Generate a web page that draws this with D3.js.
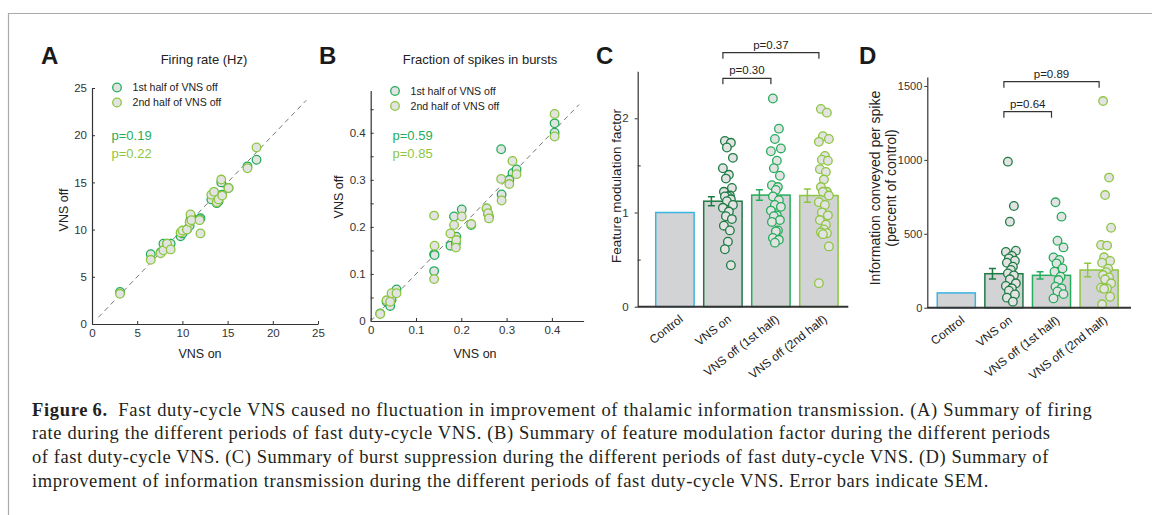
<!DOCTYPE html>
<html>
<head>
<meta charset="utf-8">
<script src="https://cdn.jsdelivr.net/npm/d3@7"></script>
<style>
  body { margin: 0; background: #fff; }
  svg text { font-family: "Liberation Sans", Arial, sans-serif; }
</style>
</head>
<body>
<div id="fig"></div>
<script>
// ---- panel A: firing rate (Hz), one entry per cell
var rateOn     = [3.1, 6.5, 7.6, 7.9, 8.3, 8.7, 9.8, 10.0, 10.5, 10.8, 10.9, 11.0, 12.0, 11.9, 13.2, 13.5, 13.8, 14.0, 14.3, 14.4, 15.1, 17.2, 18.2];
var rateFirst  = [3.4, 7.4, 7.6, 8.5, 8.5, 8.5, 9.3, 9.6, 10.0, 10.4, 11.1, 11.3, 11.2, 11.1, 13.2, 13.9, 12.8, 13.0, 15.0, 13.7, 14.4, 16.7, 17.4];
var rateSecond = [3.2, 6.8, 7.5, 7.8, 8.5, 7.9, 9.7, 9.9, 10.0, 10.8, 11.6, 11.0, 9.6, 11.0, 13.7, 14.0, 12.9, 13.2, 15.3, 13.6, 14.4, 16.5, 18.7];
var rateP = ["p=0.19", "p=0.22"];

// ---- panel B: fraction of spikes in bursts
var burstOn     = [0.021, 0.035, 0.043, 0.046, 0.057, 0.140, 0.141, 0.140, 0.176, 0.184, 0.189, 0.188, 0.201, 0.222, 0.256, 0.259, 0.261, 0.288, 0.289, 0.313, 0.322, 0.306, 0.406, 0.406];
var burstFirst  = [0.016, 0.041, 0.032, 0.045, 0.067, 0.142, 0.140, 0.106, 0.160, 0.222, 0.179, 0.165, 0.237, 0.204, 0.239, 0.228, 0.222, 0.365, 0.269, 0.314, 0.322, 0.300, 0.420, 0.400];
var burstSecond = [0.015, 0.044, 0.041, 0.059, 0.059, 0.224, 0.160, 0.089, 0.186, 0.204, 0.172, 0.156, 0.222, 0.206, 0.239, 0.229, 0.218, 0.302, 0.256, 0.340, 0.312, 0.291, 0.440, 0.392];
var burstP = ["p=0.59", "p=0.85"];

var legendNames = ["1st half of VNS off", "2nd half of VNS off"];

// ---- panels C and D: groups
var groups = ["Control", "VNS on", "VNS off (1st half)", "VNS off (2nd half)"];

// C: feature modulation factor
var fmfMean = [1.0, 1.12, 1.185, 1.18];
var fmfSem  = [0, 0.048, 0.056, 0.07];
var fmfOn     = [1.76, 1.74, 1.69, 1.58, 1.47, 1.40, 1.36, 1.26, 1.22, 1.18, 1.17, 1.17, 1.14, 1.12, 1.08, 1.05, 1.01, 0.96, 0.93, 0.86, 0.81, 0.69, 0.61, 0.44];
var fmfFirst  = [2.21, 1.89, 1.78, 1.68, 1.65, 1.55, 1.47, 1.39, 1.29, 1.27, 1.24, 1.17, 1.13, 1.08, 1.06, 1.02, 0.97, 0.96, 0.92, 0.90, 0.81, 0.80, 0.73, 0.71, 0.68];
var fmfSecond = [2.10, 2.06, 1.81, 1.78, 1.75, 1.60, 1.56, 1.55, 1.46, 1.43, 1.35, 1.27, 1.22, 1.22, 1.18, 1.11, 1.08, 1.00, 0.97, 0.92, 0.87, 0.82, 0.79, 0.78, 0.77, 0.64, 0.25];
var fmfPairs = [[1, 2, "p=0.30"], [1, 3, "p=0.37"]];

// D: information per spike (percent of control)
var infoMean = [100, 230, 219, 255];
var infoSem  = [0, 36, 25, 45];
var infoOn     = [988, 688, 582, 386, 377, 350, 334, 318, 304, 277, 255, 232, 219, 192, 165, 147, 131, 115, 90, 68, 41];
var infoFirst  = [713, 616, 453, 408, 340, 323, 300, 266, 244, 210, 187, 142, 131, 110, 92, 63];
var infoSecond = [1398, 880, 762, 541, 424, 420, 341, 316, 304, 264, 240, 221, 205, 192, 165, 135, 131, 128, 74, 23];
var infoPairs = [[1, 2, "p=0.64"], [1, 3, "p=0.89"]];

var captionLines = [
  "Fast duty-cycle VNS caused no fluctuation in improvement of thalamic information transmission. (A) Summary of firing",
  "rate during the different periods of fast duty-cycle VNS. (B) Summary of feature modulation factor during the different periods",
  "of fast duty-cycle VNS. (C) Summary of burst suppression during the different periods of fast duty-cycle VNS. (D) Summary of",
  "improvement of information transmission during the different periods of fast duty-cycle VNS. Error bars indicate SEM."
];

var cCtrl = "#3bb3e4", cOn = "#1e7b44", cFirst = "#25ad5b", cSecond = "#8dc63f";
var groupColors = [cCtrl, cOn, cFirst, cSecond];
var dotFill = "#e3e3e3", barFill = "#d2d3d4", axisCol = "#333";

var svg = d3.select("#fig").append("svg")
  .attr("width", 1152)
  .attr("height", 515);

// frame
svg.append("path")
  .attr("d", "M8.5,515 V13.5 H1152")
  .attr("fill", "none")
  .attr("stroke", "#aaa")
  .attr("stroke-width", 1.2);

function panelLetter(t, x) {
  svg.append("text").attr("x", x).attr("y", 64)
    .style("font-size", "24px").style("font-weight", "bold").style("fill", "#1a1a1a")
    .text(t);
}

function styleAxis(g) {
  g.attr("color", axisCol);
  g.select(".domain").attr("stroke-width", 1.2);
  g.selectAll("text").style("font-size", "11.5px").style("fill", "#333");
}

function scatterPanel(cfg) {
  var x = d3.scaleLinear().domain(cfg.xDomain).range(cfg.xRange);
  var y = d3.scaleLinear().domain(cfg.yDomain).range(cfg.yRange);
  var g = svg.append("g");

  g.append("g")
    .attr("transform", "translate(0," + cfg.yRange[0] + ")")
    .call(d3.axisBottom(x).tickValues(cfg.xTicks).tickSize(-3).tickSizeOuter(0).tickPadding(5).tickFormat(cfg.fmt))
    .call(styleAxis);

  g.append("g")
    .attr("transform", "translate(" + cfg.xRange[0] + ",0)")
    .call(d3.axisLeft(y).tickValues(cfg.yTicks).tickSize(-3).tickSizeOuter(0).tickPadding(5).tickFormat(cfg.fmt))
    .call(styleAxis);

  if (cfg.yMinor) {
    g.append("g")
      .attr("transform", "translate(" + cfg.xRange[0] + ",0)")
      .call(d3.axisLeft(y).tickValues(cfg.yMinor).tickSize(-3).tickFormat(""))
      .call(function(a) { a.attr("color", axisCol); a.select(".domain").remove(); });
  }

  // identity line
  g.append("line")
    .attr("x1", x(cfg.diag[0])).attr("y1", y(cfg.diag[0]))
    .attr("x2", x(cfg.diag[1])).attr("y2", y(cfg.diag[1]))
    .attr("stroke", "#777").attr("stroke-width", 1).attr("stroke-dasharray", "5,4");

  // titles
  g.append("text").attr("x", cfg.titleX).attr("y", 63.5)
    .attr("text-anchor", "middle").style("font-size", "13px").style("fill", "#222")
    .text(cfg.title);
  g.append("text").attr("x", cfg.xLabelX).attr("y", 357.5)
    .attr("text-anchor", "middle").style("font-size", "12.5px").style("fill", "#222")
    .text("VNS on");
  g.append("text")
    .attr("transform", "translate(" + cfg.yLabelX + "," + cfg.yLabelY + ") rotate(-90)")
    .attr("text-anchor", "middle").style("font-size", "12.5px").style("fill", "#222")
    .text("VNS off");

  // points: 1st half then 2nd half on top
  [[cfg.first, cFirst], [cfg.second, cSecond]].forEach(function(s) {
    g.append("g").selectAll("circle")
      .data(cfg.on)
      .enter()
      .append("circle")
      .attr("cx", function(d) { return x(d); })
      .attr("cy", function(d, i) { return y(s[0][i]); })
      .attr("r", 4.3)
      .attr("fill", dotFill)
      .attr("stroke", s[1])
      .attr("stroke-width", 1.3);
  });

  // legend
  legendNames.forEach(function(n, i) {
    var ly = cfg.legY + i * 15;
    g.append("circle").attr("cx", cfg.legX).attr("cy", ly).attr("r", 4.3)
      .attr("fill", dotFill).attr("stroke", i === 0 ? cFirst : cSecond).attr("stroke-width", 1.3);
    g.append("text").attr("x", cfg.legX + 15.5).attr("y", ly + 3.8)
      .style("font-size", "10.6px").style("fill", "#222").text(n);
  });

  // p values
  cfg.p.forEach(function(t, i) {
    g.append("text").attr("x", cfg.pX).attr("y", 140 + i * 17.5)
      .style("font-size", "13px").style("fill", i === 0 ? cFirst : cSecond)
      .text(t);
  });
}

function barPanel(cfg) {
  var x = d3.scaleBand().domain(groups).range(cfg.bandRange).paddingInner(0.2).paddingOuter(0.1);
  var y = d3.scaleLinear().domain(cfg.yDomain).range(cfg.yRange);
  var bw = x.bandwidth();
  var y0 = cfg.yRange[0];
  var g = svg.append("g");
  var jit = [2, 8, 4, 10, 0, 6, 3, 9, 1, 7, 5];

  // bars
  g.selectAll("rect.bar")
    .data(groups)
    .enter()
    .append("rect")
    .attr("class", "bar")
    .attr("x", function(d) { return x(d); })
    .attr("y", function(d, i) { return y(cfg.mean[i]); })
    .attr("width", bw)
    .attr("height", function(d, i) { return y0 - y(cfg.mean[i]); })
    .attr("fill", barFill)
    .attr("stroke", function(d, i) { return groupColors[i]; })
    .attr("stroke-width", 1.5);

  // error bars (SEM)
  groups.forEach(function(gr, i) {
    if (!cfg.sem[i]) return;
    var ex = x(gr) + bw * 0.2;
    var lo = y(cfg.mean[i] - cfg.sem[i]), hi = y(cfg.mean[i] + cfg.sem[i]);
    g.append("path")
      .attr("d", "M" + ex + "," + lo + "V" + hi +
                 "M" + (ex - 3.5) + "," + hi + "H" + (ex + 3.5) +
                 "M" + (ex - 3.5) + "," + lo + "H" + (ex + 3.5))
      .attr("fill", "none").attr("stroke", groupColors[i]).attr("stroke-width", 1.5);
  });

  // individual cells
  cfg.dots.forEach(function(vals, k) {
    var i = k + 1;
    var cx0 = x(groups[i]) + bw / 2 + cfg.dotBase;
    g.append("g").selectAll("circle")
      .data(vals)
      .enter()
      .append("circle")
      .attr("cx", function(d, j) { return cx0 + jit[j % jit.length]; })
      .attr("cy", function(d) { return y(d); })
      .attr("r", 4.3)
      .attr("fill", dotFill)
      .attr("stroke", groupColors[i])
      .attr("stroke-width", 1.3);
  });

  // axes
  g.append("g")
    .attr("transform", "translate(" + cfg.axisX + ",0)")
    .call(d3.axisLeft(y).tickValues(cfg.yTicks).tickSize(3).tickSizeOuter(0).tickPadding(cfg.tickPad).tickFormat(d3.format("d")))
    .call(styleAxis)
    .call(function(a) { a.selectAll("text").style("font-size", cfg.tickSize); });
  if (cfg.yMinor) {
    g.append("g")
      .attr("transform", "translate(" + cfg.axisX + ",0)")
      .call(d3.axisLeft(y).tickValues(cfg.yMinor).tickSize(-3).tickFormat(""))
      .call(function(a) { a.attr("color", axisCol); a.select(".domain").remove(); });
  }
  g.append("line")
    .attr("x1", cfg.axisX).attr("x2", cfg.axisEnd)
    .attr("y1", y0).attr("y2", y0)
    .attr("stroke", axisCol).attr("stroke-width", 2);

  // group labels
  g.selectAll("text.grp")
    .data(groups)
    .enter()
    .append("text")
    .attr("class", "grp")
    .attr("transform", function(d) {
      return "translate(" + (x(d) + bw / 2 + 9) + "," + (y0 + 14) + ") rotate(-38)";
    })
    .attr("text-anchor", "end")
    .style("font-size", "12px").style("fill", "#222")
    .text(function(d) { return d; });

  // y label
  cfg.yLabel.forEach(function(t, i) {
    g.append("text")
      .attr("transform", "translate(" + cfg.yLabelX[i] + "," + cfg.yLabelY + ") rotate(-90)")
      .attr("text-anchor", "middle").style("font-size", cfg.yLabelSize).style("fill", "#222")
      .text(t);
  });

  // comparison brackets
  cfg.pairs.forEach(function(p, i) {
    var xa = x(groups[p[0]]) + bw / 2, xb = x(groups[p[1]]) + bw / 2;
    var by = cfg.bracketY[i];
    g.append("path")
      .attr("d", "M" + xa + "," + (by + 6) + "V" + by + "H" + xb + "V" + (by + 6))
      .attr("fill", "none").attr("stroke", "#333").attr("stroke-width", 1.2);
    g.append("text").attr("x", (xa + xb) / 2).attr("y", by - 4)
      .attr("text-anchor", "middle").style("font-size", "11.5px").style("fill", "#222")
      .text(p[2]);
  });
}

var fmt01 = function(d) { return d === 0 ? "0" : d3.format(".1f")(d); };

panelLetter("A", 41);
scatterPanel({
  xDomain: [0, 25], xRange: [92, 318],
  yDomain: [0, 25], yRange: [324, 88],
  xTicks: [0, 5, 10, 15, 20, 25], yTicks: [0, 5, 10, 15, 20, 25],
  fmt: d3.format("d"),
  diag: [0.7, 23.7],
  title: "Firing rate (Hz)", titleX: 204,
  xLabelX: 200, yLabelX: 68, yLabelY: 210,
  on: rateOn, first: rateFirst, second: rateSecond,
  legX: 117, legY: 87.5, pX: 111.5, p: rateP
});

panelLetter("B", 319);
scatterPanel({
  xDomain: [0, 0.47], xRange: [370.7, 583.6],
  yDomain: [0, 0.49], yRange: [321, 90.4],
  xTicks: [0, 0.1, 0.2, 0.3, 0.4], yTicks: [0, 0.1, 0.2, 0.3, 0.4],
  yMinor: [0.05, 0.15, 0.25, 0.35, 0.45],
  fmt: fmt01,
  diag: [0, 0.46],
  title: "Fraction of spikes in bursts", titleX: 480,
  xLabelX: 475, yLabelX: 343, yLabelY: 197,
  on: burstOn, first: burstFirst, second: burstSecond,
  legX: 395, legY: 91, pX: 392.5, p: burstP
});

panelLetter("C", 596);
barPanel({
  bandRange: [650.9, 842.9],
  yDomain: [0, 2.5], yRange: [306.7, 71.2],
  yTicks: [0, 1, 2], yMinor: [0.5, 1.5], tickPad: 6, tickSize: "11.5px",
  axisX: 637.7, axisEnd: 848.3,
  mean: fmfMean, sem: fmfSem,
  dots: [fmfOn, fmfFirst, fmfSecond], dotBase: 0,
  yLabel: ["Feature modulation factor"], yLabelX: [620.5], yLabelY: 186, yLabelSize: "13.5px",
  pairs: fmfPairs, bracketY: [78.3, 52.7]
});

panelLetter("D", 859);
barPanel({
  bandRange: [932.5, 1122.9],
  yDomain: [0, 1560], yRange: [307.7, 77.1],
  yTicks: [0, 500, 1000, 1500], tickPad: 2, tickSize: "11px",
  axisX: 927.3, axisEnd: 1131,
  mean: infoMean, sem: infoSem,
  dots: [infoOn, infoFirst, infoSecond], dotBase: 2,
  yLabel: ["Information conveyed per spike", "(percent of control)"], yLabelX: [879.5, 895.5], yLabelY: 188, yLabelSize: "14px",
  pairs: infoPairs, bracketY: [111.7, 81.7]
});

// caption
var cap = svg.append("g").style("fill", "#231f20");
var capEnds = [1091.7, 1050, 1048.3, 988.3];
captionLines.forEach(function(line, i) {
  var t = cap.append("text")
    .attr("x", 32).attr("y", 415.5 + i * 23.7)
    .attr("textLength", capEnds[i] - 32)
    .attr("lengthAdjust", "spacing")
    .style("font-family", "'Liberation Serif', 'DejaVu Serif', serif")
    .style("font-size", "18.5px");
  if (i === 0) {
    t.append("tspan").style("font-weight", "bold").text("Figure\u2009" + "6.");
    t.append("tspan").text("\u00a0\u00a0" + line);
  } else {
    t.text(line);
  }
});
</script>
</body>
</html>
